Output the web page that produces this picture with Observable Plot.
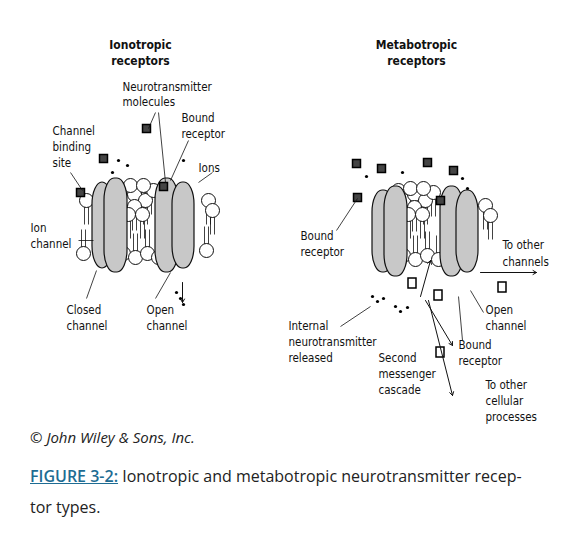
<!DOCTYPE html>
<html><head><meta charset="utf-8">
<script src="https://cdn.jsdelivr.net/npm/d3@7"></script>
<script src="https://cdn.jsdelivr.net/npm/@observablehq/plot@0.6"></script>
<style>
body{margin:0;background:#fff;font-family:"Open Sans",sans-serif;color:#222}
#cap{padding:0 0 0 30px;margin-top:0}
.copy{font-style:italic;font-size:15px;margin:2px 0 14px}
.fig{font-size:16px;line-height:31px;margin:0}
.fig b{color:#1e6c93;text-decoration:underline;font-weight:600}
</style></head><body>
<div id="chart"></div>
<div id="cap">
<p class="copy">© John Wiley &amp; Sons, Inc.</p>
<p class="fig"><b>FIGURE 3-2:</b> Ionotropic and metabotropic neurotransmitter recep-<br>tor types.</p>
</div>
<script>
// titles and labels: [x, y, text]
const titles = [
  [140,45,'Ionotropic'],[140,61,'receptors'],
  [416,45,'Metabotropic'],[416,61,'receptors']
]
const labels = [
  [122,87,'Neurotransmitter'],[122,102,'molecules'],
  [181,118,'Bound'],[181,134,'receptor'],
  [52,131,'Channel'],[52,147,'binding'],[52,163,'site'],
  [198,168,'Ions'],
  [30,228,'Ion'],[30,244,'channel'],
  [66,310,'Closed'],[66,326,'channel'],
  [146,310,'Open'],[146,326,'channel'],
  [300,236,'Bound'],[300,252,'receptor'],
  [502,245,'To other'],[502,262,'channels'],
  [485,310,'Open'],[485,326,'channel'],
  [288,326,'Internal'],[288,342,'neurotransmitter'],[288,358,'released'],
  [458,345,'Bound'],[458,361,'receptor'],
  [378,358,'Second'],[378,374,'messenger'],[378,390,'cascade'],
  [485,385,'To other'],[485,401,'cellular'],[485,417,'processes']
]
// protein cylinders [x1, x2, y1, y2]
const proteins = [
  [92,112,182,268],[104,127,178,272],[155,178,178,272],[172,194,182,268],
  [372,394,190,272],[384,407,186,276],[440,463,186,276],[456,478,190,272]
]
// lipid heads [x, y]
const heads = [
  [123,200],[134,194],[145,200],[134,206],[128,214],[142,214],[153,190],[118,187],[130,185],[143,185],
  [123,253],[135,257],[147,253],[158,257],[86,200],[208,200],[212,210],[83,253],[206,250],
  [403,200],[414,194],[425,200],[414,207],[408,214],[422,214],[433,192],[398,190],[410,188],[423,188],
  [403,255],[415,259],[427,255],[438,259],[485,205],[490,215]
]
const ligands = [
  [103,158],[146,128],[163,186],[80,192],
  [356,163],[381,168],[427,162],[453,170],[357,197],[440,200]
]
const ions = [
  [118,160],[127,165],[112,172],[183,160],[176,292],[180,298],[183,304],
  [366,176],[402,172],[462,178],[467,188],[372,296],[377,301],[383,298],[395,306],[400,311],[407,307]
]
const messengers = [[412,283],[438,295],[440,352],[502,287]]
// leader lines [x1, y1, x2, y2]
const leaders = [
  [155,112,148,128],[158,112,165,182],[188,140,170,180],[70,172,82,190],
  [212,172,198,182],[78,240,93,240],[86,298,96,270],[155,298,170,272],
  [336,230,357,198],[483,312,470,290],[340,326,370,306],[462,340,458,296]
]
const arrows = [
  [480,272,536,272],[182,282,182,302],[425,300,452,345],[428,300,452,395],[420,296,430,260]
]

const tails = heads.flatMap(([x,y]) => y < 230 ? [[x-2,y,x-2,y+24],[x+2,y,x+2,y+24]] : [[x-2,y,x-2,y-24],[x+2,y,x+2,y-24]])
const font = '"DejaVu Sans Condensed","DejaVu Sans",sans-serif'

const chart = Plot.plot({
  width: 582, height: 425,
  margin: 0,
  x: {domain: [0,582], axis: null},
  y: {domain: [425,0], axis: null},
  style: {fontFamily: font},
  marks: [
    Plot.link(tails, {x1: d=>d[0], y1: d=>d[1], x2: d=>d[2], y2: d=>d[3], stroke: '#111', strokeWidth: 0.8}),
    Plot.dot(heads, {x: d=>d[0], y: d=>d[1], r: 7, fill: '#fff', stroke: '#111', strokeWidth: 1}),
    Plot.rect(proteins, {x1: d=>d[0], x2: d=>d[1], y1: d=>d[2], y2: d=>d[3], fill: '#c8c8c8', stroke: '#111', strokeWidth: 1.2, rx: 10, ry: 22}),
    Plot.dot(ligands, {x: d=>d[0], y: d=>d[1], r: 4.5, symbol: 'square', fill: '#444', stroke: '#000'}),
    Plot.dot(ions, {x: d=>d[0], y: d=>d[1], r: 1.6, fill: '#000'}),
    Plot.rect(messengers, {x1: d=>d[0]-4, x2: d=>d[0]+4, y1: d=>d[1]-5, y2: d=>d[1]+5, fill: '#fff', stroke: '#000', strokeWidth: 1.5}),
    Plot.link(leaders, {x1: d=>d[0], y1: d=>d[1], x2: d=>d[2], y2: d=>d[3], stroke: '#111', strokeWidth: 0.8}),
    Plot.arrow(arrows, {x1: d=>d[0], y1: d=>d[1], x2: d=>d[2], y2: d=>d[3], stroke: '#111', strokeWidth: 1, headLength: 6}),
    Plot.text(titles, {x: d=>d[0], y: d=>d[1], text: d=>d[2], fontWeight: 'bold', fontSize: 12, fill: '#111'}),
    Plot.text(labels, {x: d=>d[0], y: d=>d[1], text: d=>d[2], textAnchor: 'start', fontSize: 11.5, fill: '#111'})
  ]
})
d3.select('#chart').append(() => chart)
</script>
</body></html>
